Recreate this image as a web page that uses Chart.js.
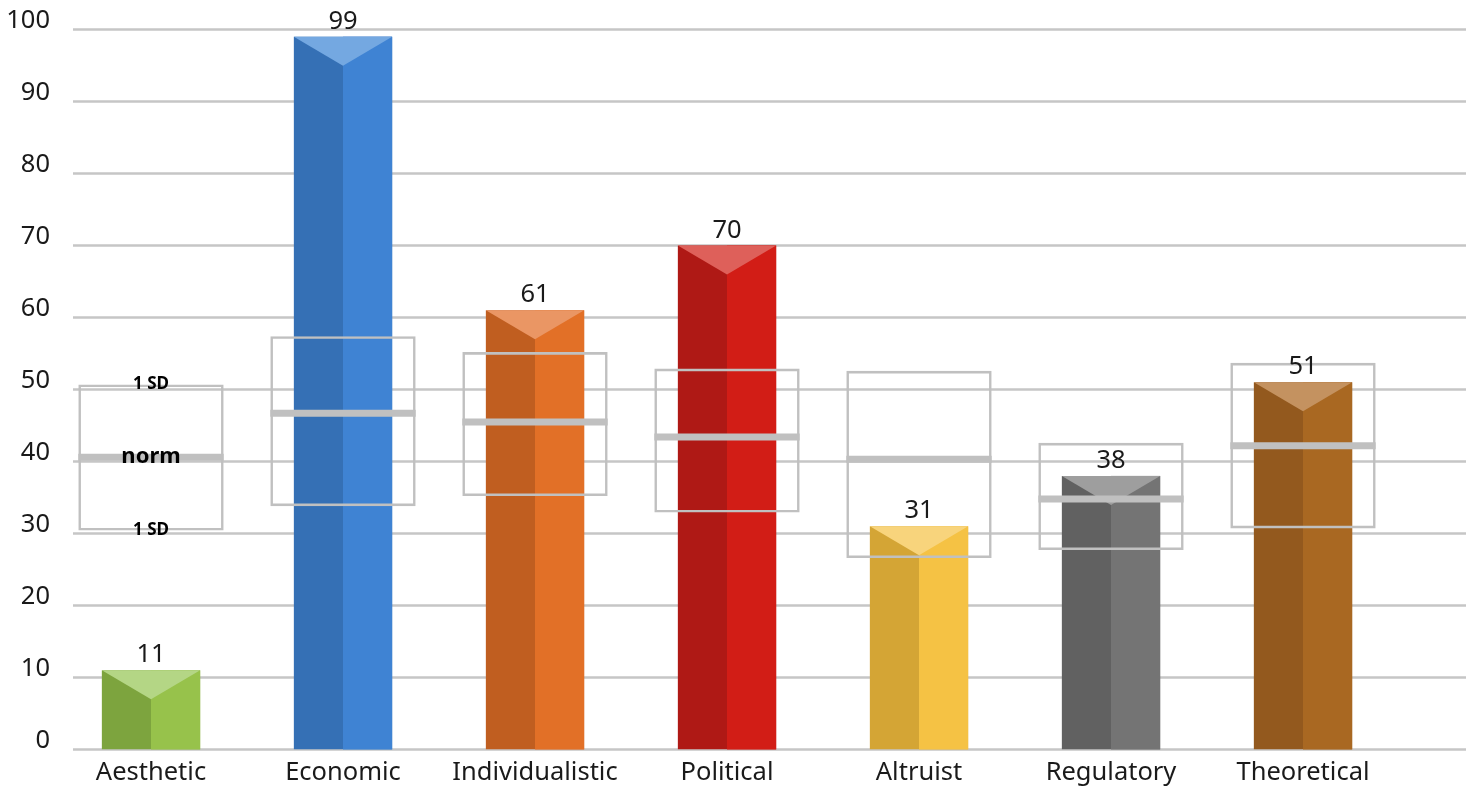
<!DOCTYPE html>
<html lang="en">
<head>
<meta charset="UTF-8" />
<title>Value scores</title>
<script src="https://cdn.jsdelivr.net/npm/chart.js"></script>
<style>
  html, body { margin: 0; padding: 0; background: #fff; }
  #wrap { width: 1472px; height: 787px; }
</style>
</head>
<body>
<div id="wrap"><canvas id="chart"></canvas></div>
<script>
// values
const categories = ["Aesthetic", "Economic", "Individualistic", "Political", "Altruist", "Regulatory", "Theoretical"];
const scores = [11, 99, 61, 70, 31, 38, 51];
const normValues = [40.6, 46.7, 45.5, 43.4, 40.3, 34.8, 42.2];
const sdLow = [30.4, 33.8, 35.2, 32.9, 26.6, 27.7, 30.7];
const sdHigh = [50.7, 57.4, 55.2, 52.9, 52.6, 42.6, 53.7];
const yMin = 0, yMax = 100, yStep = 10;

// left face / right face / top cap
const darkColors = ["#7DA43E", "#3570B5", "#C05E20", "#AF1915", "#D4A535", "#616161", "#93591E"];
const lightColors = ["#97C24B", "#3F83D3", "#E27027", "#D21D16", "#F5C244", "#747474", "#A96822"];
const capColors = ["#B4D685", "#74A8E1", "#EA9664", "#DE605A", "#F8D47C", "#9E9E9E", "#C49260"];

const CAP = 29;
const GRID = "#C6C6C6";
const BOXLINE = "#C0C0C0";
const FONT = "'Noto Sans', sans-serif";

Chart.defaults.font.family = FONT;
Chart.defaults.font.size = 25.5;
Chart.defaults.color = "#1a1a1a";

const decor = {
  id: "decor",
  beforeDatasetsDraw(chart) {
    const { ctx, chartArea, scales: { y } } = chart;
    ctx.save();
    ctx.strokeStyle = GRID;
    ctx.lineWidth = 2.4;
    y.ticks.forEach((t) => {
      const py = y.getPixelForValue(t.value);
      ctx.beginPath();
      ctx.moveTo(chartArea.left + 18, py);
      ctx.lineTo(chartArea.right + 67, py);
      ctx.stroke();
    });
    ctx.restore();
  },
  afterDatasetDraw(chart, args) {
    if (args.index !== 1) return;
    const ctx = chart.ctx;
    ctx.save();
    args.meta.data.forEach((bar, i) => {
      const { x, y, base, width } = bar.getProps(["x", "y", "base", "width"], true);
      const l = x - width / 2, r = x + width / 2;
      ctx.fillStyle = lightColors[i];
      ctx.fillRect(x, y, r - x, base - y);
      ctx.beginPath();
      ctx.moveTo(l, y);
      ctx.lineTo(r, y);
      ctx.lineTo(x, y + CAP);
      ctx.closePath();
      ctx.fillStyle = capColors[i];
      ctx.fill();
    });
    ctx.restore();
  },
  afterDatasetsDraw(chart) {
    const { ctx, scales: { y } } = chart;
    const boxes = chart.getDatasetMeta(0).data;
    const bars = chart.getDatasetMeta(1).data;
    ctx.save();
    // norm lines
    ctx.strokeStyle = BOXLINE;
    ctx.lineWidth = 7;
    boxes.forEach((b, i) => {
      const { x, width } = b.getProps(["x", "width"], true);
      const py = y.getPixelForValue(normValues[i]);
      ctx.beginPath();
      ctx.moveTo(x - width / 2, py);
      ctx.lineTo(x + width / 2, py);
      ctx.stroke();
    });
    // labels on the first box
    const x0 = boxes[0].x;
    ctx.fillStyle = "#000";
    ctx.textAlign = "center";
    ctx.textBaseline = "middle";
    ctx.font = "bold 17px " + FONT;
    ctx.fillText("1 SD", x0, y.getPixelForValue(sdHigh[0]));
    ctx.fillText("1 SD", x0, y.getPixelForValue(sdLow[0]));
    ctx.font = "bold 22px " + FONT;
    ctx.fillText("norm", x0, y.getPixelForValue(normValues[0]));
    // value labels
    ctx.font = "25.5px " + FONT;
    ctx.fillStyle = "#1a1a1a";
    ctx.textBaseline = "alphabetic";
    bars.forEach((b, i) => {
      const { x, y: top } = b.getProps(["x", "y"], true);
      ctx.fillText(String(scores[i]), x, top - 8);
    });
    ctx.restore();
  }
};

new Chart(document.getElementById("chart"), {
  type: "bar",
  data: {
    labels: categories,
    datasets: [
      {
        label: "norm ± 1 SD",
        data: sdLow.map((lo, i) => [lo, sdHigh[i]]),
        backgroundColor: "rgba(0,0,0,0)",
        borderColor: BOXLINE,
        borderWidth: 2.6,
        borderSkipped: false,
        categoryPercentage: 1,
        barPercentage: 0.757,
        grouped: false
      },
      {
        label: "score",
        data: scores,
        backgroundColor: darkColors,
        borderWidth: 0,
        categoryPercentage: 1,
        barPercentage: 0.512,
        grouped: false
      }
    ]
  },
  options: {
    responsive: true,
    maintainAspectRatio: false,
    animation: false,
    layout: { padding: { top: 29.5, right: 73, left: 0, bottom: 0 } },
    plugins: { legend: { display: false }, tooltip: { enabled: false } },
    scales: {
      x: {
        grid: { display: false, drawTicks: false },
        border: { display: false },
        ticks: { padding: 8, color: "#1a1a1a" },
        afterFit: (s) => { s.height = 37.5; }
      },
      y: {
        min: yMin,
        max: yMax,
        grid: { display: false, drawTicks: false },
        border: { display: false },
        ticks: { stepSize: yStep, padding: 5, labelOffset: -9, color: "#1a1a1a" },
        afterFit: (s) => { s.width = 55; }
      }
    }
  },
  plugins: [decor]
});
</script>
</body>
</html>
